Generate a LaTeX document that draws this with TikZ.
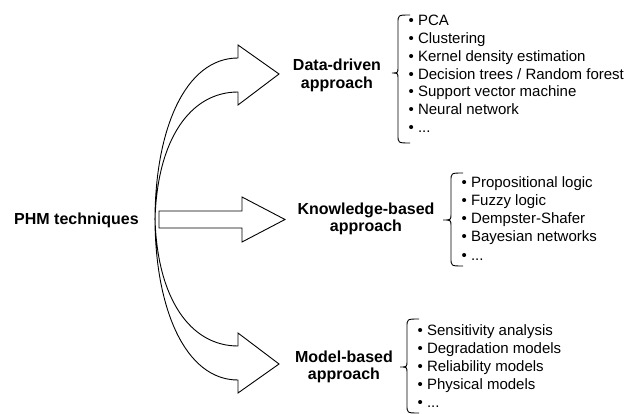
\documentclass[tikz,border=0pt]{standalone}
\usepackage{fontspec}
\setmainfont{Liberation Sans}
\newcommand\mybrace[6]{%
  \draw[bracestyle] (#1,#4) .. controls (#2,#4) .. (#2,#4+8) -- (#2,#5-6)
    .. controls (#2,#5) .. (#3,#5) .. controls (#2,#5) .. (#2,#5+6)
    -- (#2,#6-8) .. controls (#2,#6) .. (#1,#6);}
\begin{document}
\begin{tikzpicture}[x=1pt,y=-1pt,
  arrowshape/.style={draw=black, line width=0.9pt, fill=white, line join=miter},
  approachlabel/.style={inner sep=0pt, anchor=base, font=\bfseries\fontsize{16}{17.5}\selectfont},
  itemlist/.style={inner sep=0pt, anchor=base west, font=\fontsize{15}{18.2}\selectfont},
  bracestyle/.style={draw=black, line width=0.9pt}]
\useasboundingbox (0,0) rectangle (639,414);
\fill[white] (0,0) rectangle (639,414);

% curved arrow up
\path[arrowshape] (155,220) .. controls (155,130) and (185,58) .. (238,58)
  -- (238,45) -- (279,74) -- (238,105) -- (238,92)
  .. controls (190,92) and (157,140) .. (155,220) -- cycle;
% curved arrow down
\path[arrowshape] (155,218) .. controls (155,308) and (185,380) .. (238,380)
  -- (238,393) -- (279,364) -- (238,333) -- (238,346)
  .. controls (190,346) and (157,298) .. (155,218) -- cycle;
% straight arrow
\path[arrowshape] (159,211) -- (242,211) -- (242,197) -- (285,219.5)
  -- (242,242) -- (242,228) -- (159,228) -- cycle;

\node[approachlabel, anchor=base west] (phm) at (14,224.5) {PHM techniques};
\node[approachlabel] (data) at (337,71)
  {\begin{tabular}[t]{@{}c@{}}Data-driven\\approach\end{tabular}};
\node[approachlabel] (know) at (366,214)
  {\begin{tabular}[t]{@{}c@{}}Knowledge-based\\approach\end{tabular}};
\node[approachlabel] (model) at (344,362.3)
  {\begin{tabular}[t]{@{}c@{}}Model-based\\approach\end{tabular}};

\node[itemlist, font=\fontsize{15}{17.7}\selectfont] (dlist) at (408.4,26)
  {\begin{tabular}[t]{@{}l@{}}• PCA\\• Clustering\\• Kernel density estimation\\• Decision trees / Random forest\\• Support vector machine\\• Neural network\\• ...\end{tabular}};
\node[itemlist] (klist) at (461.4,187.3)
  {\begin{tabular}[t]{@{}l@{}}• Propositional logic\\• Fuzzy logic\\• Dempster-Shafer\\• Bayesian networks\\• ...\end{tabular}};
\node[itemlist] (mlist) at (417.4,335)
  {\begin{tabular}[t]{@{}l@{}}• Sensitivity analysis\\• Degradation models\\• Reliability models\\• Physical models\\• ...\end{tabular}};

\mybrace{410}{398}{392}{15}{73}{143}
\mybrace{463}{451}{443}{173}{220}{266}
\mybrace{419}{407}{400}{319}{367}{413}
\end{tikzpicture}
\end{document}
